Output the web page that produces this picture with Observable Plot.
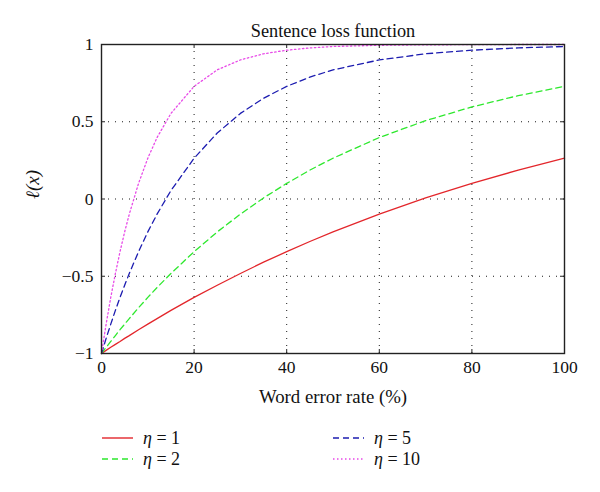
<!DOCTYPE html>
<html>
<head>
<meta charset="utf-8">
<script src="https://cdn.jsdelivr.net/npm/d3@7"></script>
<script src="https://cdn.jsdelivr.net/npm/@observablehq/plot@0.6"></script>
<style>
  html, body { margin: 0; padding: 0; background: #fff; }
  #wrap { position: relative; width: 600px; height: 492px; font-family: "Liberation Serif", "DejaVu Serif", serif; }
  .leg { position: absolute; display: flex; align-items: center; font-size: 18px; color: #111; height: 20px; }
  .leg svg { margin-right: 10px; }
</style>
</head>
<body>
<div id="wrap"></div>
<script>
const title = "Sentence loss function";
const xLabel = "Word error rate (%)";
const yLabel = "ℓ(x)";
const xTicks = [0, 20, 40, 60, 80, 100];
const yTicks = [-1, -0.5, 0, 0.5, 1];
const gridX = [20, 40, 60, 80];
const gridY = [-0.5, 0, 0.5];

const wer = [0, 1, 2, 3, 4, 5, 6, 8, 10, 12, 15, 20, 25, 30, 35, 40, 45, 50, 60, 70, 80, 90, 100];
const loss1 = [-1, -0.980, -0.960, -0.941, -0.922, -0.902, -0.884, -0.846, -0.810, -0.774, -0.721, -0.637, -0.558, -0.482, -0.409, -0.341, -0.275, -0.213, -0.098, 0.007, 0.101, 0.187, 0.264];
const loss2 = [-1, -0.960, -0.922, -0.884, -0.846, -0.810, -0.774, -0.704, -0.637, -0.573, -0.482, -0.341, -0.213, -0.098, 0.007, 0.101, 0.187, 0.264, 0.398, 0.507, 0.596, 0.669, 0.729];
const loss5 = [-1, -0.902, -0.810, -0.721, -0.637, -0.558, -0.482, -0.341, -0.213, -0.098, 0.055, 0.264, 0.427, 0.554, 0.652, 0.729, 0.789, 0.836, 0.900, 0.940, 0.963, 0.978, 0.987];
const loss10 = [-1, -0.810, -0.637, -0.482, -0.341, -0.213, -0.098, 0.101, 0.264, 0.398, 0.554, 0.729, 0.836, 0.900, 0.940, 0.963, 0.978, 0.987, 0.995, 0.998, 0.999, 1.0, 1.0];

const seriesNames = ["η = 1", "η = 2", "η = 5", "η = 10"];
const seriesValues = [loss1, loss2, loss5, loss10];
const seriesColors = ["#e3262b", "#2ee82e", "#1c1cb0", "#e84ae8"];
const seriesDash = [null, "6,4", "6,4", "1.5,2.5"];

const font = '"Liberation Serif", "DejaVu Serif", serif';

const lineMarks = seriesNames.map((name, i) =>
  Plot.line(wer.map((x, j) => ({x, y: seriesValues[i][j]})), {
    x: "x", y: "y", stroke: seriesColors[i], strokeWidth: 1.3,
    strokeDasharray: seriesDash[i] ?? undefined
  })
);

const fmtY = d => d < 0 ? "\u2212" + Math.abs(d) : String(d);

const chart = Plot.plot({
  width: 600,
  height: 420,
  marginTop: 44,
  marginLeft: 101,
  marginRight: 36,
  marginBottom: 67,
  style: {fontFamily: font, fontSize: "17px", color: "#111", background: "white"},
  x: {domain: [0, 100], ticks: xTicks},
  y: {domain: [-1, 1], ticks: yTicks},
  marks: [
    Plot.ruleX(gridX, {stroke: "#000", strokeWidth: 1, strokeDasharray: "1,6", strokeOpacity: 0.9}),
    Plot.ruleY(gridY, {stroke: "#000", strokeWidth: 1, strokeDasharray: "1,6", strokeOpacity: 0.9}),
    ...lineMarks,
    Plot.tickX(xTicks, {x: d => d, insetTop: 305, stroke: "#222"}),
    Plot.tickX(xTicks, {x: d => d, insetBottom: 305, stroke: "#222"}),
    Plot.tickY(yTicks, {y: d => d, insetRight: 459, stroke: "#222"}),
    Plot.tickY(yTicks, {y: d => d, insetLeft: 459, stroke: "#222"}),
    Plot.axisX({ticks: xTicks, tickSize: 0, tickPadding: 7, fontSize: 17.5, fontFamily: font, fontVariant: "normal", label: null}),
    Plot.axisY({ticks: yTicks, tickSize: 0, tickPadding: 8, fontSize: 17.5, fontFamily: font, fontVariant: "normal", tickFormat: fmtY, label: null}),
    Plot.frame({stroke: "#222", strokeWidth: 1.4}),
    Plot.text([title], {frameAnchor: "top", lineAnchor: "middle", dy: -13, fontSize: 18.3, fontFamily: font, fill: "#111"}),
    Plot.text([xLabel], {frameAnchor: "bottom", lineAnchor: "middle", dy: 43, fontSize: 18.8, fontFamily: font, fill: "#111"}),
    Plot.text([yLabel], {frameAnchor: "left", lineAnchor: "middle", dx: -69, rotate: -90, fontSize: 19, fontStyle: "italic", fontFamily: font, fill: "#111"})
  ]
});

const wrap = document.getElementById("wrap");
wrap.appendChild(chart);

// Legend (HTML, below the SVG)
const legPos = [
  {left: 102, top: 428}, {left: 102, top: 449},
  {left: 333, top: 428}, {left: 333, top: 449}
];
seriesNames.forEach((name, i) => {
  const div = document.createElement("div");
  div.className = "leg";
  div.style.left = legPos[i].left + "px";
  div.style.top = legPos[i].top + "px";
  const dash = seriesDash[i] ? `stroke-dasharray="${seriesDash[i]}"` : "";
  const parts = name.split(" = ");
  div.innerHTML = `<svg width="31" height="20"><line x1="0" y1="10" x2="31" y2="10" stroke="${seriesColors[i]}" stroke-width="1.4" ${dash}/></svg><span><i>${parts[0]}</i> = ${parts[1]}</span>`;
  wrap.appendChild(div);
});
</script>
</body>
</html>
